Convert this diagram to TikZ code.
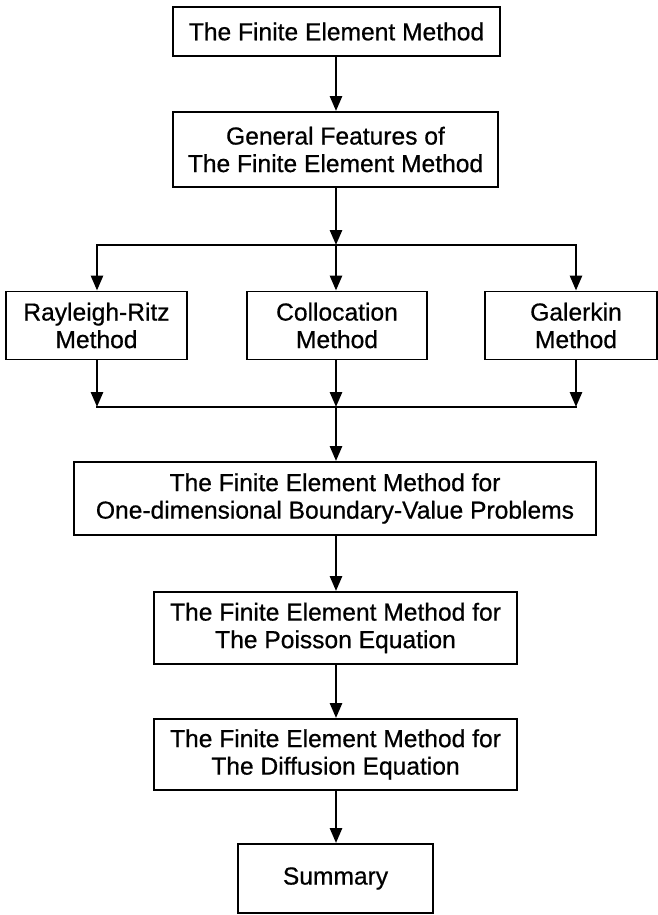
\documentclass[tikz,border=0pt]{standalone}
\usepackage{fontspec}
\setmainfont{Liberation Sans}[FakeBold=0.6]
\usetikzlibrary{arrows.meta}
\begin{document}
\begin{tikzpicture}[x=1pt,y=-1pt,
  box/.style={draw, line width=1.9pt, inner sep=0pt, align=center, font=\fontsize{24.6}{27.5}\selectfont},
  arr/.style={line width=2.7pt, -{Triangle[length=15pt,width=12pt]}},
  ln/.style={line width=2.9pt, line cap=rect}]
\useasboundingbox (0,0) rectangle (658,915);
\node[box, minimum width=327pt, minimum height=49pt] (fem) at (336.5,31.5) {The Finite Element Method};
\node[box, minimum width=325pt, minimum height=75pt] (gen) at (335.5,149.5) {General Features of\\The Finite Element Method};
\node[box, minimum width=181pt, minimum height=68pt] (rr) at (96.5,325.5) {Rayleigh-Ritz\\Method};
\node[box, minimum width=180pt, minimum height=68pt] (col) at (337,325.5) {Collocation\\Method};
\node[box, minimum width=172pt, minimum height=68pt] (gal) at (571,325.5) {\hspace*{10pt}Galerkin\\\hspace*{10pt}Method};
\node[box, minimum width=522pt, minimum height=73pt] (one) at (335,498.5) {The Finite Element Method for\\One-dimensional Boundary-Value Problems};
\node[box, minimum width=363pt, minimum height=72pt] (poi) at (335.5,628) {The Finite Element Method for\\The Poisson Equation};
\node[box, minimum width=363pt, minimum height=71pt] (dif) at (335.5,754.5) {The Finite Element Method for\\The Diffusion Equation};
\node[box, minimum width=195pt, minimum height=69pt] (sum) at (335.5,878.5) {Summary};
\coordinate (ja) at (336,245);
\coordinate (jl) at (97,245);
\coordinate (jr) at (576,245);
\coordinate (ka) at (336,407);
\coordinate (kl) at (97,407);
\coordinate (kr) at (576,407);
\draw[arr] (fem.south -| ja) -- (gen.north -| ja);
\draw[arr] (gen.south -| ja) -- (ja);
\draw[ln] (jl) -- (jr);
\draw[arr] (ja) -- (col.north -| ja);
\draw[arr] (jl) -- (rr.north -| jl);
\draw[arr] (jr) -- (gal.north -| jr);
\draw[arr] (rr.south -| kl) -- (kl);
\draw[arr] (col.south -| ka) -- (ka);
\draw[arr] (gal.south -| kr) -- (kr);
\draw[ln] (kl) -- (kr);
\draw[arr] (ka) -- (one.north -| ka);
\draw[arr] (one.south -| ka) -- (poi.north -| ka);
\draw[arr] (poi.south -| ka) -- (dif.north -| ka);
\draw[arr] (dif.south -| ka) -- (sum.north -| ka);
\end{tikzpicture}
\end{document}
